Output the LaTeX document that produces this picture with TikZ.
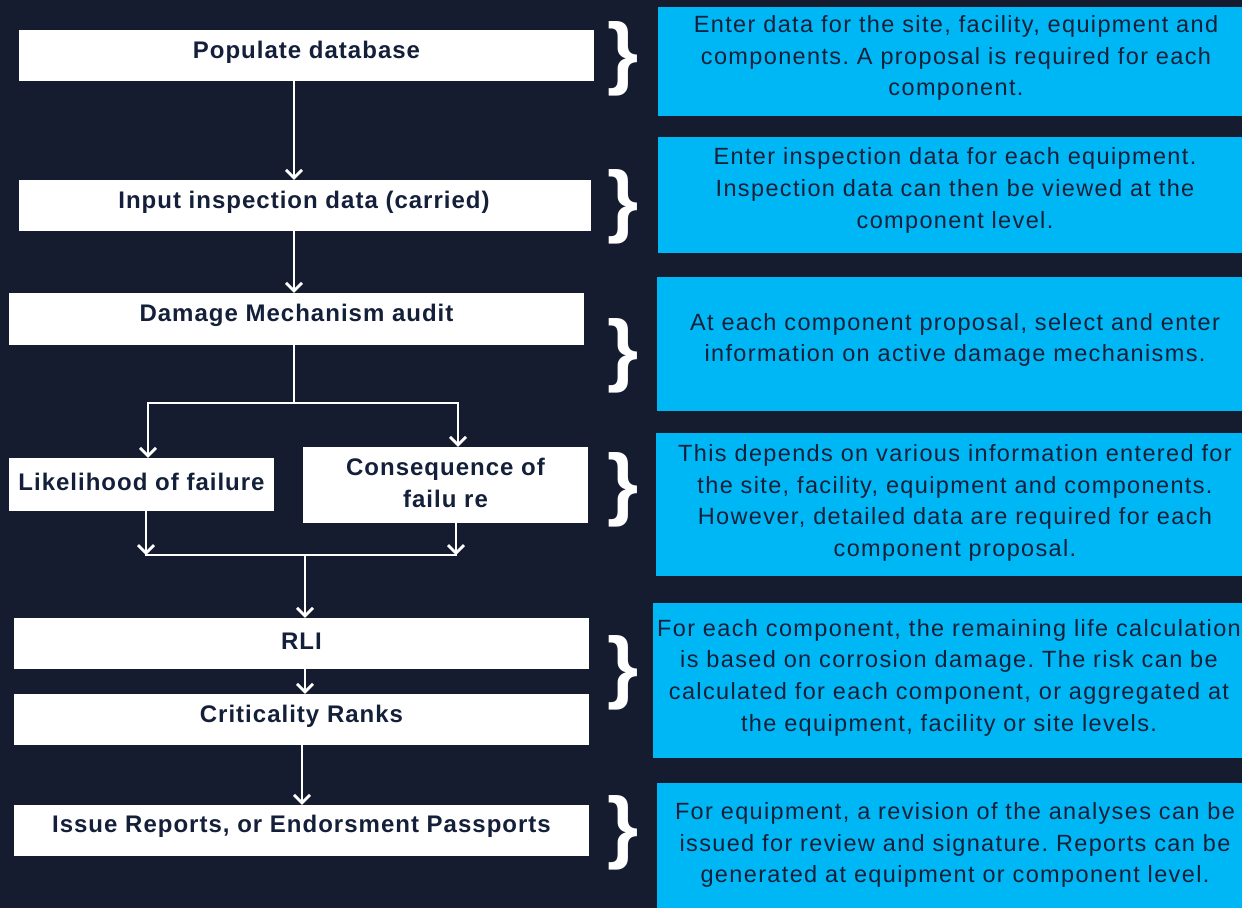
\documentclass[tikz,border=0pt]{standalone}
\usepackage{fontspec}
\setmainfont{Liberation Sans}
\newfontfamily\spfont[LetterSpace=5.8]{Liberation Sans}
\newfontfamily\spbfont[LetterSpace=4.2]{Liberation Sans}
\usetikzlibrary{arrows.meta}
\definecolor{bgc}{RGB}{21,28,47}
\definecolor{bluec}{RGB}{0,183,245}
\definecolor{txtc}{RGB}{20,32,58}
\frenchspacing
\tikzset{
  wbox/.style={fill=white, draw=none, inner sep=0pt},
  wtext/.style={inner sep=0pt, font=\fontsize{24}{32}\selectfont\spbfont\bfseries, text=txtc, align=center},
  bbox/.style={fill=bluec, draw=none, inner sep=0pt},
  btext/.style={font=\fontsize{23.5}{31.7}\selectfont\spfont, text=txtc, align=center, inner sep=0pt},
  brc/.style={font=\fontsize{80}{80}\selectfont\bfseries, text=white, inner sep=0pt},
  conn/.style={draw=white, line width=2.8pt},
  arr/.style={conn, -{Straight Barb[length=8pt,width=16pt,line width=2.8pt]}},
}
\begin{document}
\begin{tikzpicture}[x=1pt,y=-1pt]
\fill[bgc] (0,0) rectangle (1242,908);
\useasboundingbox (0,0) rectangle (1242,908);

% left boxes
\node[wbox, minimum width=575pt, minimum height=51pt] (pop) at (306.5,55.5) {};
\node[wtext] (popt) at (306.5,52) {Populate database};
\node[wbox, minimum width=572pt, minimum height=51pt] (inp) at (305,205.5) {};
\node[wtext] (inpt) at (304,202) {Input inspection data (carried)};
\node[wbox, minimum width=575pt, minimum height=52pt] (dam) at (296.5,319) {};
\node[wtext] (damt) at (296.5,315) {Damage Mechanism audit};
\node[wbox, minimum width=265pt, minimum height=53pt] (lik) at (141.5,484.5) {};
\node[wtext] (likt) at (141.5,482) {Likelihood of failure};
\node[wbox, minimum width=285pt, minimum height=76pt] (cons) at (445.5,485) {};
\node[wtext] (const) at (445.5,483) {Consequence of\\failu re};
\node[wbox, minimum width=575pt, minimum height=51pt] (rli) at (301.5,643.5) {};
\node[wtext] (rlit) at (301.5,641) {RLI};
\node[wbox, minimum width=575pt, minimum height=51pt] (crit) at (301.5,719.5) {};
\node[wtext] (critt) at (301.5,716) {Criticality Ranks};
\node[wbox, minimum width=575pt, minimum height=51pt] (iss) at (301.5,830.5) {};
\node[wtext] (isst) at (301.5,826) {Issue Reports, or Endorsment Passports};

% connectors
\coordinate (c1) at (294,0);
\coordinate (spl) at (294,403);
\coordinate (m1) at (146,555);
\coordinate (m2) at (456,555);
\coordinate (mrg) at (305,555);
\coordinate (c2) at (305,0);
\coordinate (c3) at (302,0);
\draw[arr] (pop.south -| c1) -- (inp.north -| c1);
\draw[arr] (inp.south -| c1) -- (dam.north -| c1);
\draw[conn] (dam.south -| c1) -- (spl);
\draw[arr] (spl) -| ([xshift=6.5pt]lik.north);
\draw[arr] (spl) -| ([xshift=12.5pt]cons.north);
\draw[arr] (lik.south -| m1) -- (m1);
\draw[arr] (cons.south -| m2) -- (m2);
\draw[conn] ([xshift=-1.4pt]m1) -- ([xshift=1.4pt]m2);
\draw[arr] (mrg) -- (rli.north -| mrg);
\draw[arr] (rli.south -| c2) -- (crit.north -| c2);
\draw[arr] (crit.south -| c3) -- (iss.north -| c3);

% braces
\node[brc] (br1) at (623.5,59) {\}};
\node[brc] (br2) at (623.5,207) {\}};
\node[brc] (br3) at (623.5,356) {\}};
\node[brc] (br4) at (623.5,490) {\}};
\node[brc] (br5) at (623.5,673) {\}};
\node[brc] (br6) at (623.5,833) {\}};

% blue boxes
\node[bbox, minimum width=584pt, minimum height=109pt] (b1) at (950,61.5) {};
\node[btext] (t1) at (956,58) {Enter data for the site, facility, equipment and\\components. A proposal is required for each\\component.};
\node[bbox, minimum width=584pt, minimum height=116pt] (b2) at (950,195) {};
\node[btext] (t2) at (955,190.5) {Enter inspection data for each equipment.\\Inspection data can then be viewed at the\\component level.};
\node[bbox, minimum width=585pt, minimum height=134pt] (b3) at (949.5,343.5) {};
\node[btext] (t3) at (955,340) {At each component proposal, select and enter\\information on active damage mechanisms.};
\node[bbox, minimum width=586pt, minimum height=143pt] (b4) at (949,504.5) {};
\node[btext] (t4) at (955,503) {This depends on various information entered for\\the site, facility, equipment and components.\\However, detailed data are required for each\\component proposal.};
\node[bbox, minimum width=589pt, minimum height=155pt] (b5) at (947.5,680.5) {};
\node[btext] (t5) at (949,677.5) {For each component, the remaining life calculation\\is based on corrosion damage. The risk can be\\calculated for each component, or aggregated at\\the equipment, facility or site levels.};
\node[bbox, minimum width=585pt, minimum height=125pt] (b6) at (949.5,845.5) {};
\node[btext] (t6) at (955,845) {For equipment, a revision of the analyses can be\\issued for review and signature. Reports can be\\generated at equipment or component level.};
\end{tikzpicture}
\end{document}
